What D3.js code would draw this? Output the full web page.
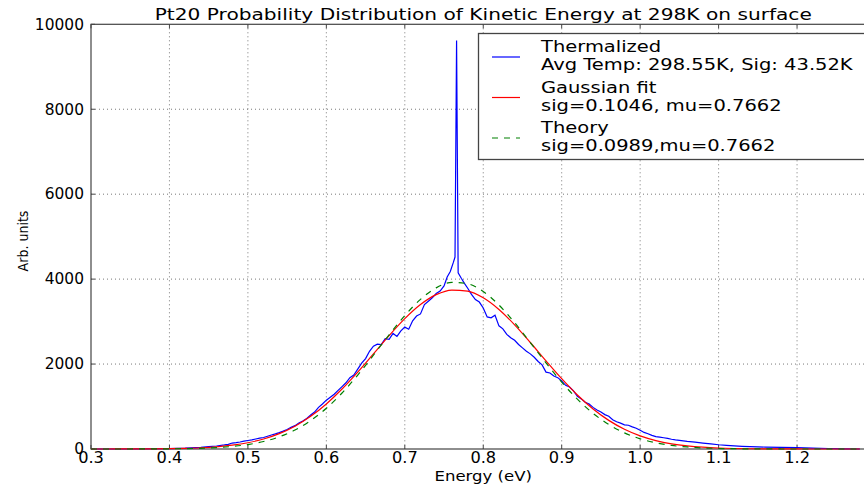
<!DOCTYPE html>
<html>
<head>
<meta charset="utf-8">
<script src="https://cdn.jsdelivr.net/npm/d3@7"></script>
<style>
  body { margin: 0; background: #fff; }
  svg { display: block; font-family: "DejaVu Sans", sans-serif; }
</style>
</head>
<body>
<div id="vis"></div>
<script>
// thermalized histogram (energy in eV, counts)
var blueEnergy = [0.30, 0.35, 0.40, 0.42, 0.44, 0.45, 0.46, 0.47, 0.475, 0.48, 0.485, 0.49, 0.495,
  0.50, 0.505, 0.51, 0.515, 0.52, 0.525, 0.53, 0.535, 0.54, 0.545, 0.55, 0.555, 0.56, 0.565, 0.57,
  0.575, 0.58, 0.585, 0.59, 0.595, 0.60, 0.605, 0.61, 0.615, 0.62, 0.625, 0.63, 0.635, 0.64, 0.645,
  0.65, 0.655, 0.66, 0.665, 0.67, 0.675, 0.68, 0.685, 0.69, 0.695, 0.70, 0.705, 0.71, 0.715, 0.72,
  0.725, 0.73, 0.735, 0.74, 0.745, 0.75, 0.754, 0.758, 0.762, 0.764, 0.766, 0.768, 0.772, 0.776,
  0.78, 0.785, 0.79, 0.795, 0.80, 0.805, 0.81, 0.815, 0.82, 0.825, 0.83, 0.835, 0.84, 0.845, 0.85,
  0.855, 0.86, 0.865, 0.87, 0.875, 0.88, 0.885, 0.89, 0.895, 0.90, 0.905, 0.91, 0.915, 0.92, 0.925,
  0.93, 0.935, 0.94, 0.945, 0.95, 0.955, 0.96, 0.965, 0.97, 0.975, 0.98, 0.985, 0.99, 0.995, 1.00,
  1.005, 1.01, 1.015, 1.02, 1.025, 1.03, 1.035, 1.04, 1.045, 1.05, 1.06, 1.07, 1.08, 1.09, 1.10,
  1.11, 1.12, 1.13, 1.14, 1.15, 1.16, 1.18, 1.20, 1.22, 1.24, 1.26, 1.28];
var blueCounts = [0, 0, 10, 20, 40, 55, 70, 95, 110, 140, 150, 165, 185,
  200, 215, 235, 255, 270, 300, 330, 355, 385, 420, 460, 510, 550, 610, 660,
  720, 800, 870, 980, 1060, 1150, 1220, 1290, 1380, 1470, 1560, 1680, 1740, 1880, 2020,
  2130, 2300, 2420, 2470, 2460, 2600, 2580, 2720, 2650, 2780, 2870, 2820, 3020, 3130, 3180,
  3400, 3480, 3560, 3660, 3720, 3840, 4050, 4180, 4400, 4520, 9620, 4150, 4020, 3900,
  3790, 3640, 3520, 3460, 3320, 3110, 3090, 3150, 2900, 2830, 2700, 2620, 2560, 2460, 2380,
  2300, 2240, 2160, 2060, 1980, 1810, 1790, 1720, 1680, 1600, 1500, 1460, 1370, 1240, 1180,
  1100, 1060, 980, 920, 870, 810, 770, 690, 640, 610, 570, 560, 520, 490, 440,
  390, 360, 320, 290, 280, 265, 250, 230, 215, 205, 180, 160, 140, 120, 100,
  85, 72, 62, 55, 50, 45, 40, 35, 22, 12, 5, 0];

// fitted and theoretical curves, sampled every 0.02 eV
var fitEnergy = [0.30, 0.32, 0.34, 0.36, 0.38, 0.40, 0.42, 0.44, 0.46, 0.48,
  0.50, 0.52, 0.54, 0.56, 0.58, 0.60, 0.62, 0.64, 0.66, 0.68,
  0.70, 0.72, 0.74, 0.76, 0.78, 0.80, 0.82, 0.84, 0.86, 0.88,
  0.90, 0.92, 0.94, 0.96, 0.98, 1.00, 1.02, 1.04, 1.06, 1.08,
  1.10, 1.12, 1.14, 1.16, 1.18, 1.20, 1.22, 1.24, 1.26, 1.28];
var gaussFit = [0, 0.4, 0.9, 2, 4, 8, 16, 29, 52, 89,
  147, 235, 362, 537, 769, 1061, 1412, 1811, 2240, 2670,
  3069, 3401, 3634, 3743, 3717, 3559, 3285, 2924, 2508, 2075,
  1655, 1272, 943, 674, 464, 308, 198, 122, 73, 42,
  23, 12, 6, 3, 1.5, 0.7, 0.3, 0.1, 0, 0];
var theory = [0, 0.1, 0.4, 0.9, 1.9, 4, 9, 17, 33, 60,
  105, 177, 287, 447, 668, 958, 1318, 1741, 2208, 2688,
  3141, 3524, 3794, 3922, 3892, 3707, 3390, 2975, 2507, 2027,
  1574, 1173, 839, 576, 380, 240, 146, 85, 48, 26,
  13, 6.5, 3, 1.4, 0.6, 0.2, 0, 0, 0, 0];

var xTicks = [0.3, 0.4, 0.5, 0.6, 0.7, 0.8, 0.9, 1.0, 1.1, 1.2, 1.3];
var xTickLabels = [0.3, 0.4, 0.5, 0.6, 0.7, 0.8, 0.9, 1.0, 1.1, 1.2];
var yTicks = [0, 2000, 4000, 6000, 8000, 10000];

var legendLabels = [
  ["Thermalized", "Avg Temp: 298.55K, Sig: 43.52K"],
  ["Gaussian fit", "sig=0.1046, mu=0.7662"],
  ["Theory", "sig=0.0989,mu=0.7662"]
];
var legendColors = ["#0000ff", "#ff0000", "#008000"];

var width = 864, height = 485;
var margin = {left: 91, top: 24.3, right: 875.5, bottom: 449};

var svg = d3.select("#vis").append("svg")
    .attr("width", width)
    .attr("height", height);

var x = d3.scaleLinear().domain([0.3, 1.3]).range([margin.left, margin.right]);
var y = d3.scaleLinear().domain([0, 10000]).range([margin.bottom, margin.top]);

// stretched text helper (the original fonts run wider than DejaVu)
function wideText(parent, tx, ty, sx, size, str, anchor) {
  return parent.append("text")
      .attr("transform", "translate(" + tx + "," + ty + ") scale(" + sx + ",1)")
      .attr("font-size", size)
      .attr("text-anchor", anchor || "start")
      .text(str);
}

// grid
var grid = svg.append("g").attr("stroke", "#555").attr("stroke-width", 0.8)
    .attr("stroke-dasharray", "1,3");
grid.selectAll(".gx").data(xTicks.slice(1, -1)).enter().append("line")
    .attr("x1", function(d) { return x(d); }).attr("x2", function(d) { return x(d); })
    .attr("y1", margin.top).attr("y2", margin.bottom);
grid.selectAll(".gy").data(yTicks.slice(1, -1)).enter().append("line")
    .attr("x1", margin.left).attr("x2", margin.right)
    .attr("y1", function(d) { return y(d); }).attr("y2", function(d) { return y(d); });

// spines
svg.append("rect")
    .attr("x", margin.left).attr("y", margin.top)
    .attr("width", margin.right - margin.left).attr("height", margin.bottom - margin.top)
    .attr("fill", "none").attr("stroke", "#444").attr("stroke-width", 1.2);

// inward ticks
var ticks = svg.append("g").attr("stroke", "#444").attr("stroke-width", 1);
xTicks.forEach(function(d) {
  ticks.append("line").attr("x1", x(d)).attr("x2", x(d)).attr("y1", margin.bottom).attr("y2", margin.bottom - 4);
  ticks.append("line").attr("x1", x(d)).attr("x2", x(d)).attr("y1", margin.top).attr("y2", margin.top + 4);
});
yTicks.forEach(function(d) {
  ticks.append("line").attr("x1", margin.left).attr("x2", margin.left + 4).attr("y1", y(d)).attr("y2", y(d));
});

// tick labels
var fmt = d3.format(".1f");
var xl = svg.append("g");
xTickLabels.forEach(function(d) {
  wideText(xl, x(d), margin.bottom + 14, 1.08, 15, fmt(d), "middle");
});
var yl = svg.append("g");
yTicks.forEach(function(d) {
  wideText(yl, margin.left - 7, y(d) + 5.3, 1.03, 15, d, "end");
});

// curves
var blueData = blueEnergy.map(function(e, i) { return [e, blueCounts[i]]; });
var fitData = fitEnergy.map(function(e, i) { return [e, gaussFit[i]]; });
var theoryData = fitEnergy.map(function(e, i) { return [e, theory[i]]; });

var line = d3.line().x(function(d) { return x(d[0]); }).y(function(d) { return y(d[1]); });
var smooth = d3.line().x(function(d) { return x(d[0]); }).y(function(d) { return y(d[1]); })
    .curve(d3.curveMonotoneX);

svg.append("path").datum(blueData).attr("d", line)
    .attr("fill", "none").attr("stroke", "#0000ff").attr("stroke-width", 1.2);
svg.append("path").datum(fitData).attr("d", smooth)
    .attr("fill", "none").attr("stroke", "#ff0000").attr("stroke-width", 1.2);
svg.append("path").datum(theoryData).attr("d", smooth)
    .attr("fill", "none").attr("stroke", "#008000").attr("stroke-width", 1.2)
    .attr("stroke-dasharray", "6,6");

// title and axis labels
wideText(svg, (margin.left + margin.right) / 2, 20, 1.3, 15.5,
    "Pt20 Probability Distribution of Kinetic Energy at 298K on surface", "middle");
wideText(svg, (margin.left + margin.right) / 2, 481, 1.14, 14.5, "Energy (eV)", "middle");

svg.append("text")
    .attr("transform", "translate(28,241) rotate(-90)")
    .attr("text-anchor", "middle")
    .attr("font-size", 14)
    .attr("font-family", "'DejaVu Sans Condensed', 'DejaVu Sans', sans-serif")
    .text("Arb. units");

// legend
var legend = svg.append("g");
legend.append("rect")
    .attr("x", 478.5).attr("y", 33.5)
    .attr("width", 390).attr("height", 126)
    .attr("fill", "#fff").attr("stroke", "#444").attr("stroke-width", 1.3);
legendLabels.forEach(function(lab, i) {
  var ly = 57 + i * 40.5;
  legend.append("line")
      .attr("x1", 492).attr("x2", 520).attr("y1", ly).attr("y2", ly)
      .attr("stroke", legendColors[i]).attr("stroke-width", 1.2)
      .attr("stroke-dasharray", i === 2 ? "6,6" : null);
  wideText(legend, 541, ly - 5, 1.3, 15, lab[0]);
  wideText(legend, 541, ly + 13, 1.3, 15, lab[1]);
});
</script>
</body>
</html>
